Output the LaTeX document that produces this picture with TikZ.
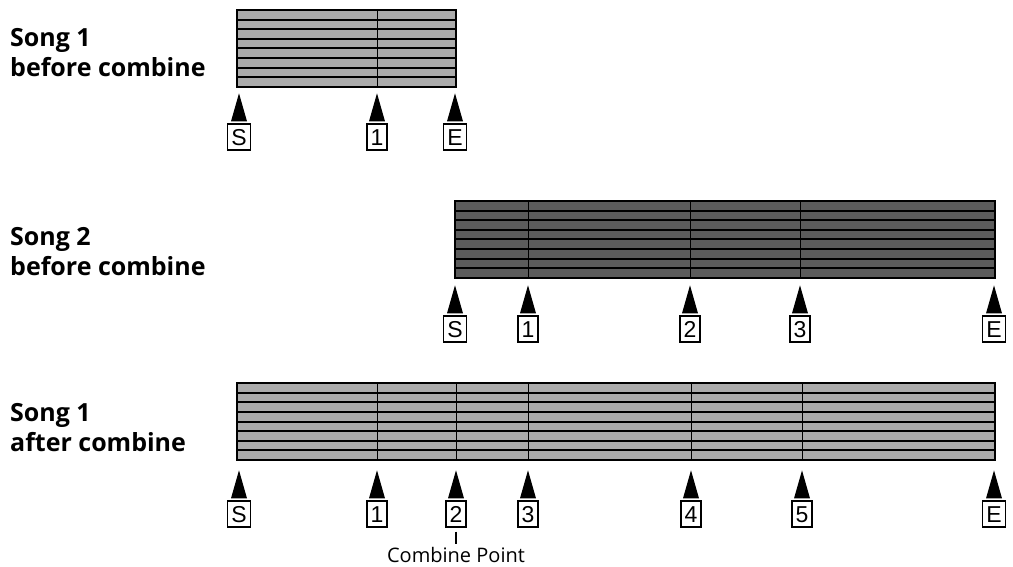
\documentclass[tikz,border=0pt]{standalone}
\usepackage{fontspec}
\setmainfont{Open Sans}
\newfontfamily\markfont{Liberation Sans}
\usetikzlibrary{calc}

\definecolor{lightlane}{gray}{0.67}
\definecolor{darklane}{gray}{0.36}

\tikzset{
  songlabel/.style={anchor=base west, align=left, inner sep=0pt, font=\bfseries\fontsize{25}{30}\selectfont},
  markbox/.style={draw, line width=1.3pt, inner xsep=3.5pt, inner ysep=0pt, text height=17pt, text depth=0pt, minimum height=26pt, font=\markfont\fontsize{23}{23}\selectfont},
  stripe/.style={line width=2pt},
  frame/.style={line width=2.5pt},
  cue/.style={line width=1pt},
}

\begin{document}
\begin{tikzpicture}[x=1pt, y=-1pt]
    \useasboundingbox (0,0) rectangle (1013,567);

    % labels
    \node[songlabel] (lbl1) at (10,77) {Song 1\\before combine};
    \node[songlabel] (lbl2) at (10,276) {Song 2\\before combine};
    \node[songlabel] (lbl3) at (10,451) {Song 1\\after combine};

    % song 1 before combine
    \fill[lightlane] (237,10) rectangle (456,87);
    \foreach \k in {1,...,7}
        \draw[stripe] (237,{10+\k*9.625}) -- (456,{10+\k*9.625});
    \draw[cue] (377,10) -- (377,87);
    \draw[frame] (237,10) rectangle (456,87);
    \foreach \x/\t/\n in {239/S/s, 377/1/a, 455/E/e} {
        \node[markbox] (one-\n) at (\x,137) {\t};
        \fill ([shift={(-8pt,2pt)}]one-\n.north) -- ([shift={(8pt,2pt)}]one-\n.north) -- ([yshift=30pt]one-\n.north) -- cycle;
    }

    % song 2 before combine
    \fill[darklane] (455,201) rectangle (995,278);
    \foreach \k in {1,...,7}
        \draw[stripe] (455,{201+\k*9.625}) -- (995,{201+\k*9.625});
    \foreach \x in {528, 690, 800}
        \draw[cue] (\x,201) -- (\x,278);
    \draw[frame] (455,201) rectangle (995,278);
    \foreach \x/\t/\n in {455/S/s, 528/1/a, 690/2/b, 800/3/c, 994/E/e} {
        \node[markbox] (two-\n) at (\x,329) {\t};
        \fill ([shift={(-8pt,2pt)}]two-\n.north) -- ([shift={(8pt,2pt)}]two-\n.north) -- ([yshift=30pt]two-\n.north) -- cycle;
    }

    % song 1 after combine
    \fill[lightlane] (237,383) rectangle (995,460);
    \foreach \k in {1,...,7}
        \draw[stripe] (237,{383+\k*9.625}) -- (995,{383+\k*9.625});
    \foreach \x in {377, 456, 528, 691, 802}
        \draw[cue] (\x,383) -- (\x,460);
    \draw[frame] (237,383) rectangle (995,460);
    \foreach \x/\t/\n in {239/S/s, 377/1/a, 456/2/b, 528/3/c, 691/4/d, 802/5/f, 994/E/e} {
        \node[markbox] (three-\n) at (\x,514) {\t};
        \fill ([shift={(-8pt,2pt)}]three-\n.north) -- ([shift={(8pt,2pt)}]three-\n.north) -- ([yshift=30pt]three-\n.north) -- cycle;
    }

    % combine point
    \node[anchor=base, inner sep=0pt, text height=14.5pt, font=\fontsize{20}{20}\selectfont] (cpoint) at (456,562) {Combine Point};
    \draw[line width=1.5pt] ([yshift=-4pt]three-b.south) -- ([yshift=3pt]cpoint.north);
\end{tikzpicture}
\end{document}
